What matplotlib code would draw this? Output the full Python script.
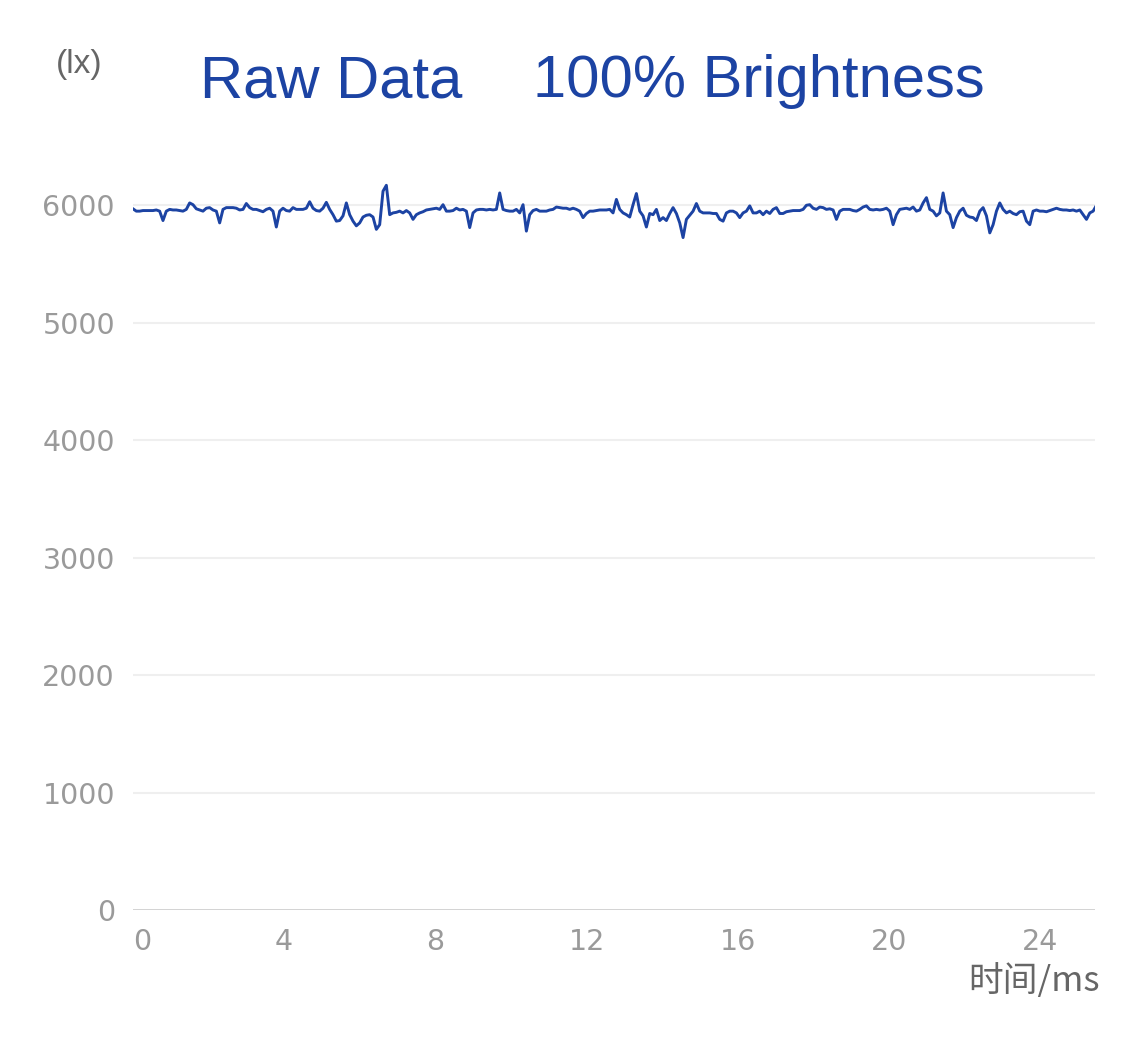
import numpy as np
import matplotlib
matplotlib.use('Agg')
import matplotlib.pyplot as plt

plt.rcParams['font.family'] = ['DejaVu Sans']

# illuminance samples (lx), in time order
lux_a = [5970, 5950, 5950, 5955, 5955, 5955, 5955, 5960, 5950, 5870,
         5950, 5965, 5960, 5960, 5955, 5950, 5965, 6020, 6005, 5970,
         5960, 5950, 5975, 5980, 5960, 5950, 5850, 5965, 5980, 5980,
         5980, 5975, 5960, 5965, 6015, 5980, 5965, 5965, 5955, 5945,
         5965, 5975, 5950, 5815, 5950, 5975, 5955, 5950, 5980, 5965]
lux_b = [5965, 5965, 5975, 6030, 5975, 5955, 5950, 5975, 6025, 5965,
         5920, 5865, 5870, 5910, 6020, 5920, 5865, 5825, 5850, 5900,
         5915, 5920, 5900, 5795, 5835, 6120, 6170, 5920, 5935, 5940,
         5950, 5935, 5955, 5935, 5880, 5920, 5935, 5945, 5960, 5965,
         5970, 5975, 5965, 6005, 5950, 5950, 5955, 5975]
lux_c = [5960, 5965, 5950, 5810, 5935, 5960, 5965, 5965, 5960, 5965,
         5960, 5965, 6105, 5965, 5955, 5950, 5950, 5965, 5935, 6005,
         5780, 5920, 5955, 5965, 5950, 5950, 5950, 5960, 5965, 5985,
         5980, 5975, 5975, 5965, 5975, 5965, 5950, 5895, 5930, 5950,
         5950, 5955, 5960, 5960, 5960, 5965, 5935, 6050]
lux_d = [5965, 5935, 5920, 5900, 6005, 6100, 5950, 5910, 5815, 5930,
         5920, 5965, 5870, 5895, 5870, 5930, 5980, 5930, 5850, 5725,
         5880, 5915, 5950, 6015, 5950, 5935, 5935, 5935, 5930, 5930,
         5880, 5865, 5935, 5950, 5950, 5935, 5895, 5935, 5950, 5995,
         5935, 5935, 5950, 5920, 5950, 5930, 5965, 5980]
lux_e = [5930, 5930, 5945, 5950, 5955, 5955, 5955, 5965, 6000, 6005,
         5975, 5965, 5985, 5980, 5965, 5970, 5960, 5880, 5950, 5965,
         5965, 5965, 5955, 5950, 5965, 5985, 5995, 5965, 5960, 5965,
         5960, 5965, 5975, 5950, 5835, 5920, 5965, 5970, 5975, 5965,
         5985, 5950, 5960, 6020, 6065, 5965, 5950, 5910]
lux_f = [5935, 6105, 5950, 5920, 5810, 5895, 5950, 5975, 5915, 5900,
         5895, 5870, 5950, 5980, 5910, 5765, 5835, 5950, 6020, 5965,
         5935, 5950, 5930, 5920, 5945, 5950, 5865, 5835, 5950, 5960,
         5950, 5950, 5945, 5955, 5965, 5975, 5965, 5960, 5960, 5955,
         5960, 5950, 5960, 5920, 5880, 5935, 5950, 6000]

sample_ms = 0.0882
y_ticks = [0, 1000, 2000, 3000, 4000, 5000, 6000]
x_ticks = [0, 4, 8, 12, 16, 20, 24]

lux = np.array(lux_a + lux_b + lux_c + lux_d + lux_e + lux_f)
t = np.arange(len(lux)) * sample_ms

blue = '#1c43a3'
fig = plt.figure(figsize=(11.25, 10.4), dpi=100)
ax = fig.add_axes([0.1182, 0.125, 0.8551, 0.7115])

for v in y_ticks[1:]:
    ax.axhline(v, color='#efefef', lw=1.5, zorder=0)
ax.axhline(0, color='#d0d0d0', lw=1.3, zorder=0)

ax.plot(t, lux, color=blue, lw=2.1, zorder=3)

ax.set_xlim(0, 25.45)
ax.set_ylim(0, 6300)
ax.set_yticks(y_ticks)
ax.set_xticks(x_ticks)
for s in ax.spines.values():
    s.set_visible(False)
ax.tick_params(axis='both', length=0, labelsize=20.5, labelcolor='#9a9a9a')
ax.tick_params(axis='y', pad=13)
ax.tick_params(axis='x', pad=13)
ax.get_xticklabels()[0].set_horizontalalignment('left')

fig.text(0.178, 0.9067, 'Raw Data', color=blue, fontsize=43,
         family='Liberation Sans', va='baseline', ha='left')
fig.text(0.4738, 0.9067, '100% Brightness', color=blue, fontsize=43,
         family='Liberation Sans', va='baseline', ha='left')
fig.text(0.0702, 0.9375, '(lx)', color='#666666', fontsize=24,
         family='Liberation Sans', va='center', ha='center')
fig.text(0.9778, 0.0567, '时间/ms', color='#666666', fontsize=25,
         family=['Noto Sans CJK SC', 'DejaVu Sans'], va='center', ha='right')

fig.savefig('out.png', dpi=100, facecolor='white')
